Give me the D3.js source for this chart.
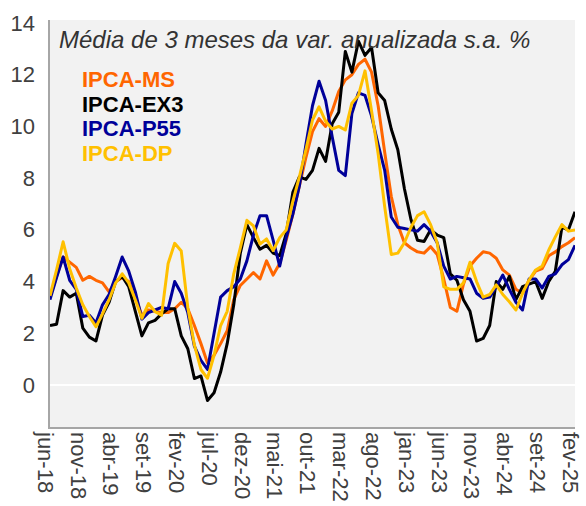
<!DOCTYPE html>
<html>
<head>
<meta charset="utf-8">
<script src="https://cdn.jsdelivr.net/npm/d3@7"></script>
<style>
body { margin: 0; background: #fff; }
text { font-family: "Liberation Sans", Arial, sans-serif; }
</style>
</head>
<body>
<div id="chart"></div>
<script>
// Variables
var width = 586;
var height = 506;

// month ticks, every 5 months from jun-18 to fev-25
var tickLabels = ['jun-18', 'nov-18', 'abr-19', 'set-19', 'fev-20', 'jul-20', 'dez-20', 'mai-21',
  'out-21', 'mar-22', 'ago-22', 'jan-23', 'jun-23', 'nov-23', 'abr-24', 'set-24', 'fev-25'];

var yTicks = [0, 2, 4, 6, 8, 10, 12, 14];

var seriesNames = ['IPCA-MS', 'IPCA-EX3', 'IPCA-P55', 'IPCA-DP'];
var seriesColors = ['#ff6600', '#000000', '#000099', '#ffc000'];

// 3-month average, annualized s.a. (jun-18 .. fev-25)
var ipcaMS = [3.4, 4.2, 4.95, 4.75, 4.55, 4.05, 4.2, 4.05, 3.95, 3.6,
  4.0, 4.15, 4.0, 3.4, 2.7, 2.9, 2.85, 2.8, 2.8, 2.95,
  3.2, 2.95, 2.3, 1.6, 0.85, 1.15, 1.6, 2.1, 3.3, 3.85,
  4.1, 4.35, 4.1, 4.8, 4.25, 4.7, 5.6, 6.6, 7.7, 8.8,
  9.8, 10.3, 10.0, 10.6, 11.35, 11.8, 12.0, 12.4, 12.6, 12.1,
  10.8, 9.0, 7.3, 6.2, 5.5, 5.3, 5.15, 5.1, 5.35, 5.05,
  4.1, 3.0, 2.85, 3.9, 4.6, 4.9, 5.15, 5.1, 4.9, 4.45,
  4.25, 3.7, 3.55, 4.05, 4.4, 4.5, 5.0, 5.15, 5.35, 5.5,
  5.7];

var ipcaEX3 = [2.3, 2.35, 3.65, 3.4, 3.55, 2.2, 1.85, 1.7, 2.7, 3.2,
  4.0, 4.2, 3.8, 2.85, 1.9, 2.4, 2.5, 2.75, 2.95, 2.95,
  1.9, 1.4, 0.25, 0.35, -0.6, -0.3, 0.5, 1.6, 3.1, 5.1,
  6.2, 5.7, 5.25, 5.4, 5.1, 5.0, 5.85, 7.45, 8.05, 7.95,
  8.3, 9.15, 8.65, 10.1, 10.55, 12.9, 12.1, 13.3, 12.75, 13.05,
  11.3, 11.0, 9.9, 9.1, 7.6, 6.4, 5.6, 5.55, 6.0, 5.8,
  5.7, 4.3, 4.05, 3.3, 2.85, 1.7, 1.8, 2.3, 4.0, 3.7,
  4.2, 3.3, 3.8, 3.9, 4.0, 3.35, 4.0, 4.4, 6.1, 6.0,
  6.7];

var ipcaP55 = [3.3, 4.15, 4.95, 4.05, 3.7, 2.65, 2.7, 2.4, 3.1, 3.5,
  4.2, 4.95, 4.4, 3.6, 2.55, 2.8, 2.9, 3.0, 2.95, 4.0,
  3.55, 2.8, 1.5, 0.95, 0.6, 2.0, 3.4, 3.65, 3.8, 4.1,
  4.8, 5.8, 6.55, 6.55, 5.6, 4.6, 5.7, 6.6, 7.7, 9.3,
  10.8, 11.75, 11.0, 9.6, 8.3, 8.1, 10.5, 11.3, 11.2, 10.4,
  9.3, 8.3, 6.5, 6.1, 6.05, 6.0, 5.95, 6.2, 5.95, 5.5,
  4.6, 4.1, 4.2, 4.15, 4.1, 3.55, 3.35, 3.4, 3.8, 4.25,
  3.7, 3.2, 2.9, 4.1, 4.1, 3.75, 4.2, 4.3, 4.65, 4.85,
  5.4];

var ipcaDP = [3.45, 4.45, 5.54, 4.5, 3.75, 3.1, 2.65, 2.25, 2.75, 3.3,
  3.95, 4.3, 3.95, 3.3, 2.58, 3.15, 2.84, 2.7, 4.7, 5.48,
  5.18, 3.0, 1.55, 0.6, 0.26, 1.15, 2.3, 2.85, 4.3, 5.3,
  6.37, 6.15, 5.45, 5.65, 5.2, 5.7, 6.0, 7.1, 8.05, 9.1,
  10.25, 10.76, 10.2, 9.9, 10.0, 9.86, 10.9, 11.2, 12.15, 10.6,
  8.95, 6.9, 5.05, 5.1, 5.5, 6.1, 6.55, 6.7, 6.2, 5.5,
  3.8, 3.7, 3.7, 3.95, 4.75, 4.0, 3.4, 3.5, 3.87, 3.5,
  3.22, 2.9, 3.54, 4.06, 4.45, 4.6, 5.22, 5.73, 6.2, 5.95,
  6.0];

var allSeries = [ipcaMS, ipcaEX3, ipcaP55, ipcaDP];

var plot = { left: 50, right: 575, top: 20, bottom: 428 };

var x = d3.scaleLinear()
    .domain([0, ipcaMS.length - 1])
    .range([plot.left, plot.right]);

var y = d3.scaleLinear()
    .domain([0, 14])
    .range([385, 23]);

var svg = d3.select('#chart').append('svg')
    .attr('width', width)
    .attr('height', height);

svg.append('rect')
    .attr('width', width)
    .attr('height', height)
    .attr('fill', '#fff');

// plot background
svg.append('rect')
    .attr('x', plot.left)
    .attr('y', plot.top)
    .attr('width', plot.right - plot.left)
    .attr('height', plot.bottom - plot.top)
    .attr('fill', '#f2f2f2');

// zero line
svg.append('line')
    .attr('x1', plot.left)
    .attr('x2', plot.right)
    .attr('y1', y(0))
    .attr('y2', y(0))
    .attr('stroke', '#fff')
    .attr('stroke-width', 2);

// axis lines
svg.append('line')
    .attr('x1', 49).attr('x2', 49)
    .attr('y1', plot.top).attr('y2', plot.bottom + 1)
    .attr('stroke', '#a6a6a6').attr('stroke-width', 2);
svg.append('line')
    .attr('x1', 48).attr('x2', plot.right)
    .attr('y1', plot.bottom).attr('y2', plot.bottom)
    .attr('stroke', '#a6a6a6').attr('stroke-width', 2);

// y axis labels
var yAxis = svg.append('g')
    .attr('transform', 'translate(49,0)')
    .call(d3.axisLeft(y).tickValues(yTicks).tickSize(0).tickPadding(14));
yAxis.select('.domain').remove();
yAxis.selectAll('text')
    .style('font-family', '"Liberation Sans", Arial, sans-serif')
    .style('font-size', '22px')
    .attr('fill', '#404040');

// x axis labels, rotated
var xAxis = svg.append('g')
    .attr('transform', 'translate(0,' + plot.bottom + ')')
    .call(d3.axisBottom(x)
        .tickValues(d3.range(0, ipcaMS.length, 5))
        .tickFormat(function(d, i) { return tickLabels[i]; })
        .tickSize(0));
xAxis.select('.domain').remove();
xAxis.selectAll('text')
    .attr('transform', 'rotate(90)')
    .attr('x', 4)
    .attr('y', 5)
    .attr('dy', '0.35em')
    .style('text-anchor', 'start')
    .style('font-family', '"Liberation Sans", Arial, sans-serif')
    .style('font-size', '22px')
    .attr('fill', '#404040');

// lines
var line = d3.line()
    .x(function(d, i) { return x(i); })
    .y(function(d) { return y(d); });

svg.append('defs').append('clipPath').attr('id', 'clip')
  .append('rect')
    .attr('x', plot.left).attr('y', plot.top)
    .attr('width', plot.right - plot.left).attr('height', plot.bottom - plot.top);

svg.append('g')
    .attr('clip-path', 'url(#clip)')
  .selectAll('path')
    .data(allSeries)
  .enter().append('path')
    .attr('d', line)
    .attr('fill', 'none')
    .attr('stroke', function(d, i) { return seriesColors[i]; })
    .attr('stroke-width', 3)
    .attr('stroke-linejoin', 'round');

// title
svg.append('text')
    .attr('x', 59)
    .attr('y', 48)
    .style('font-size', '24px')
    .style('font-style', 'italic')
    .attr('fill', '#333')
    .text('Média de 3 meses da var. anualizada s.a. %');

// legend
svg.selectAll('.legend')
    .data(seriesNames)
  .enter().append('text')
    .attr('class', 'legend')
    .attr('x', 82)
    .attr('y', function(d, i) { return 87 + i * 24.6; })
    .style('font-size', '22px')
    .style('font-weight', 'bold')
    .attr('fill', function(d, i) { return seriesColors[i]; })
    .text(function(d) { return d; });
</script>
</body>
</html>
